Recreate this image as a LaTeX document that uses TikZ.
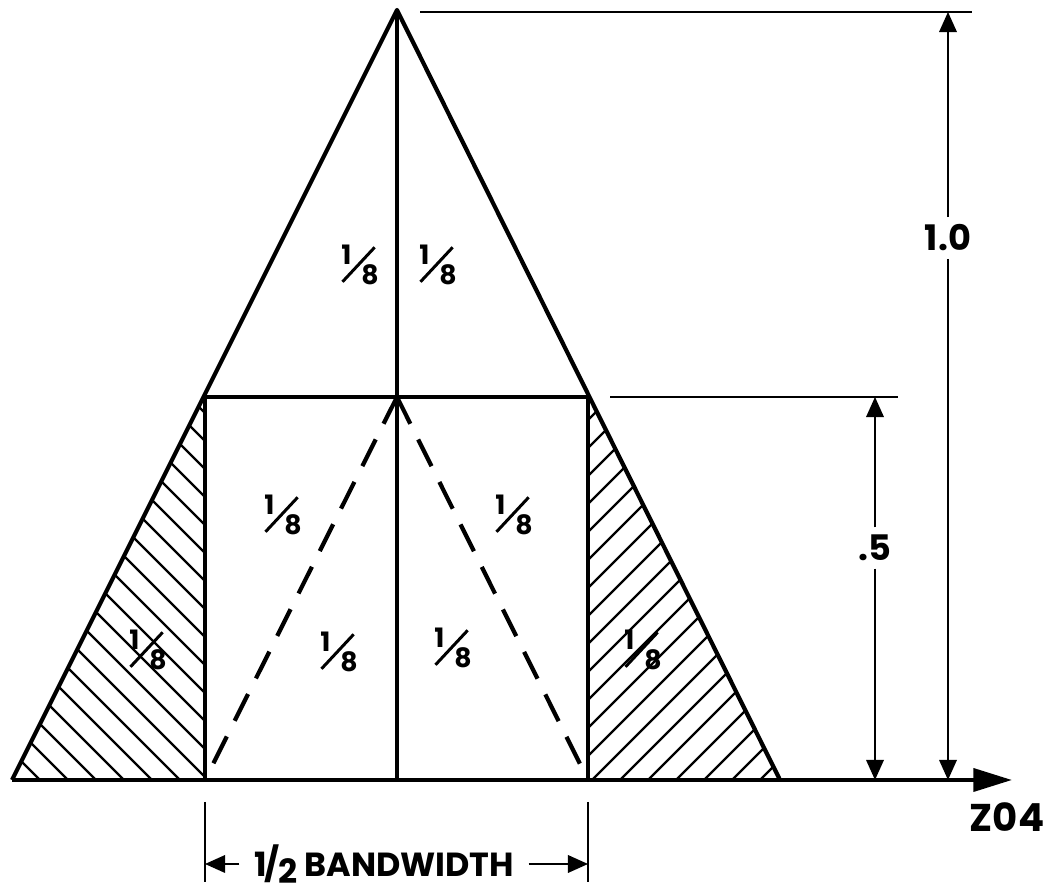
\documentclass[tikz,border=0pt]{standalone}
\usepackage{fontspec}
\setmainfont{Poppins}
\usetikzlibrary{arrows.meta,positioning}

\newcommand{\eighth}{{\fontsize{7.6}{7.6}\selectfont\makebox[10pt][l]{\rlap{\raisebox{5.6pt}{1}}\rlap{\raisebox{0.3pt}{\rotatebox{47}{\rule{13.4pt}{0.85pt}}}}\hspace{5.7pt}\raisebox{-0.3pt}{8}}}}

\begin{document}
\begin{tikzpicture}[x=0.01cm, y=-0.01cm,
  outline/.style = {line width=1.2pt, line join=round},
  dimline/.style = {line width=0.45pt},
  hatchline/.style = {line width=0.65pt},
  dimtip/.style = {dimline, -{Triangle[length=5.7pt, width=5pt]}},
  frac/.style = {font=\bfseries, inner sep=1pt},
  dimlabel/.style = {font=\bfseries\fontsize{10}{12}\selectfont, inner sep=2pt}]
\useasboundingbox (0,0) rectangle (1045,892);

% corner points
\coordinate (apex) at (397,10);
\coordinate (bl) at (12,780);
\coordinate (br) at (780,780);
\coordinate (ml) at (205,397);
\coordinate (mc) at (397,397);
\coordinate (mr) at (588,397);
\coordinate (cl) at (205,780);
\coordinate (cc) at (397,780);
\coordinate (cr) at (588,780);
\coordinate (axend) at (1012,780);

% hatched strips
\begin{scope}
\clip (bl) -- (ml) -- (cl) -- cycle;
\foreach \y in {413,441,...,1000} \draw[hatchline] (-95,\y-300) -- (305,\y+100);
\end{scope}
\begin{scope}
\clip (mr) -- (br) -- (cr) -- cycle;
\foreach \y in {420,448,...,1000} \draw[hatchline] (488,\y+100) -- (888,\y-300);
\end{scope}

% outline
\draw[outline] (bl) -- (apex) -- (br);
\draw[outline] (ml) -- (mr);
\draw[outline] (ml) -- (cl); \draw[outline] (mr) -- (cr);
\draw[outline] (apex) -- (cc);
\draw[outline, dash pattern=on 8.5pt off 5pt] (mc) -- (cl);
\draw[outline, dash pattern=on 8.5pt off 5pt] (mc) -- (cr);
\draw[outline, -{Triangle[length=11pt, width=6.5pt]}] (bl) -- (axend);
\node[dimlabel, font=\bfseries\fontsize{11}{13}\selectfont] (zlab) [below left=1.5mm and -4mm of axend] {Z04};

% areas
\node[frac] (f1) at (359,265) {\eighth};
\node[frac] (f2) at (437,265) {\eighth};
\node[frac] (f3) at (282,515) {\eighth};
\node[frac] (f4) at (513,515) {\eighth};
\node[frac] (f5) at (338,652) {\eighth};
\node[frac] (f6) at (452,648) {\eighth};
\node[frac] (f7) at (147,650) {\eighth};
\node[frac] (f8) at (642,650) {\eighth};

% height 1.0
\coordinate (t0) at (420,12);
\coordinate (t1) at (972,12);
\coordinate (d1top) at (948,12);
\coordinate (d1bot) at (948,780);
\draw[dimline] (t0) -- (t1);
\node[dimlabel] (one) at (948,238) {1.0};
\draw[dimtip] (one) -- (d1top);
\draw[dimtip] (one) -- (d1bot);

% height .5
\coordinate (m0) at (610,397);
\coordinate (m1) at (898,397);
\coordinate (d2top) at (875,397);
\coordinate (d2bot) at (875,780);
\draw[dimline] (m0) -- (m1);
\node[dimlabel] (half) at (875,548) {.5};
\draw[dimtip] (half) -- (d2top);
\draw[dimtip] (half) -- (d2bot);

% bandwidth
\coordinate (e0a) at (205,802);
\coordinate (e0b) at (205,882);
\coordinate (e1a) at (588,802);
\coordinate (e1b) at (588,882);
\coordinate (bwl) at (205,864);
\coordinate (bwr) at (588,864);
\draw[dimline] (e0a) -- (e0b);
\draw[dimline] (e1a) -- (e1b);
\node[dimlabel, font=\bfseries\fontsize{9.5}{11}\selectfont, inner sep=4pt] (bw) at (384,864) {1\kern-0.5pt/\kern-0.5pt\raisebox{-2pt}{2} BANDWIDTH};
\draw[dimtip] (bw) -- (bwl);
\draw[dimtip] (bw) -- (bwr);
\end{tikzpicture}
\end{document}
